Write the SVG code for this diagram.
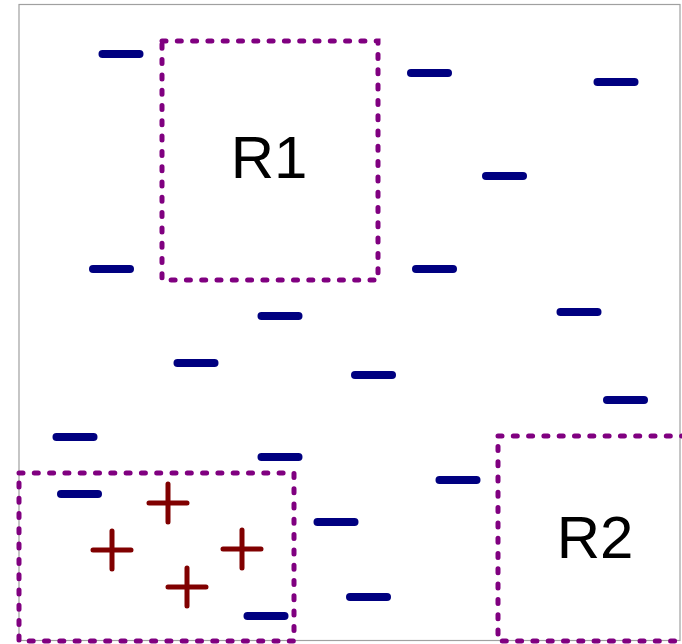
<svg xmlns="http://www.w3.org/2000/svg" width="682" height="644" viewBox="0 0 682 644">
<style>
.frame{fill:none;stroke:#a0a0a0;stroke-width:1.2}
.region{fill:none;stroke:#800080;stroke-width:5;stroke-dasharray:4 11.3;stroke-linecap:round}
.minus{stroke:#000080;stroke-width:8;stroke-linecap:round}
.plus{stroke:#800000;stroke-width:5;stroke-linecap:round;fill:none}
.label{font-family:"Liberation Sans",Arial,sans-serif;font-size:60px;fill:#000;text-anchor:middle}
</style>
<defs>
<line id="m" class="minus" x1="-18.5" y1="0" x2="18.5" y2="0"/>
<path id="p" class="plus" d="M-19 0H19M0 -19V19"/>
</defs>
<rect width="682" height="644" fill="#fff"/>
<rect class="frame" x="19" y="4.5" width="661" height="636"/>
<g id="R1">
<rect class="region" x="162" y="41" width="216" height="239"/>
<text class="label" x="269" y="178">R1</text>
</g>
<g id="R2">
<rect class="region" x="498" y="436" width="200" height="205"/>
<text class="label" x="595" y="558">R2</text>
</g>
<g id="R3">
<rect class="region" x="19" y="473" width="275" height="168"/>
</g>
<g id="minuses">
<use href="#m" x="121" y="54"/>
<use href="#m" x="429.5" y="73"/>
<use href="#m" x="616" y="82"/>
<use href="#m" x="504.5" y="176"/>
<use href="#m" x="111.5" y="269"/>
<use href="#m" x="434.5" y="269"/>
<use href="#m" x="280" y="316"/>
<use href="#m" x="579" y="312"/>
<use href="#m" x="196" y="363"/>
<use href="#m" x="373.5" y="375"/>
<use href="#m" x="625.5" y="400"/>
<use href="#m" x="75" y="437"/>
<use href="#m" x="280" y="457"/>
<use href="#m" x="79.5" y="494"/>
<use href="#m" x="458" y="480"/>
<use href="#m" x="336" y="522"/>
<use href="#m" x="368.5" y="597"/>
<use href="#m" x="266" y="616"/>
</g>
<g id="pluses">
<use href="#p" x="168" y="503"/>
<use href="#p" x="112" y="550"/>
<use href="#p" x="242" y="549"/>
<use href="#p" x="187" y="587"/>
</g>
</svg>
